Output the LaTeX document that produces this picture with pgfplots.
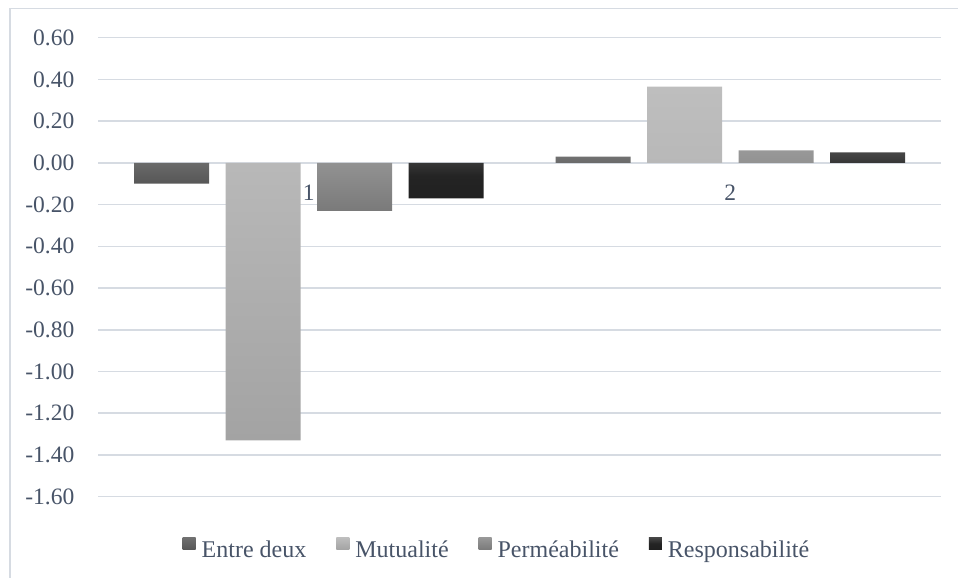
\documentclass[border=0pt]{standalone}
\usepackage{pgfplots}
\pgfplotsset{compat=1.18}
\usepackage{fontspec}
\setmainfont{Liberation Serif}
\definecolor{txt}{RGB}{72,84,104}
\definecolor{gridc}{RGB}{214,219,226}
\definecolor{aT}{RGB}{112,112,112}
\definecolor{aB}{RGB}{86,86,86}
\definecolor{bT}{RGB}{190,190,190}
\definecolor{bB}{RGB}{163,163,163}
\definecolor{cT}{RGB}{152,152,152}
\definecolor{cB}{RGB}{122,122,122}
\definecolor{dT}{RGB}{70,70,70}
\definecolor{dM}{RGB}{36,36,36}
\definecolor{dB}{RGB}{32,32,32}
\begin{document}
\begin{tikzpicture}[x=1pt,y=1pt]
\path[use as bounding box] (0,0) rectangle (958,578);
\draw[gridc, line width=1.5pt] (10,-5) -- (10,569.5) -- (965,569.5);
\begin{axis}[
  at={(98pt,81.3pt)}, anchor=south west,
  scale only axis, width=843pt, height=459pt,
  xmin=0.5, xmax=2.5, ymin=-1.6, ymax=0.6,
  axis x line=middle, axis y line=left,
  axis line style={draw=none}, tick style={draw=none},
  xtick={1,2}, xticklabels={1,2},
  ytick={-1.6,-1.4,-1.2,-1.0,-0.8,-0.6,-0.4,-0.2,0,0.2,0.4,0.6},
  ymajorgrids, grid style={gridc, line width=1.6pt},
  ybar=16.5pt, bar width=75pt,
  tick label style={font=\fontsize{23.5}{27}\selectfont, text=txt},
  yticklabel style={inner sep=0pt, anchor=east, xshift=-21.3pt},
  xticklabel style={inner sep=0pt, anchor=center, yshift=-26pt},
  y tick label style={/pgf/number format/.cd, fixed, fixed zerofill, precision=2, assume math mode=true},
  legend columns=4,
  legend style={at={(axis description cs:0.4721,-0.1357)}, anchor=south,
    draw=none, fill=none, inner sep=0pt,
    font=\fontsize{24}{28}\selectfont, text=txt,
    nodes={inner sep=0pt},
    /tikz/every odd column/.append style={column sep=6pt},
    /tikz/every even column/.append style={column sep=30pt}},
  legend image code/.code={\path[#1, draw=none] (0pt,0pt) rectangle (13pt,12.3pt);},
]
\addplot[draw=none, top color=aT, bottom color=aB] coordinates {(1,-0.10) (2,0.03)};
\addlegendentry{Entre deux}
\addplot[draw=none, top color=bT, bottom color=bB] coordinates {(1,-1.33) (2,0.365)};
\addlegendentry{Mutualité}
\addplot[draw=none, top color=cT, bottom color=cB] coordinates {(1,-0.23) (2,0.06)};
\addlegendentry{Perméabilité}
\addplot[draw=none, top color=dT, bottom color=dB, middle color=dM] coordinates {(1,-0.17) (2,0.05)};
\addlegendentry{Responsabilité}
\end{axis}
\end{tikzpicture}
\end{document}
